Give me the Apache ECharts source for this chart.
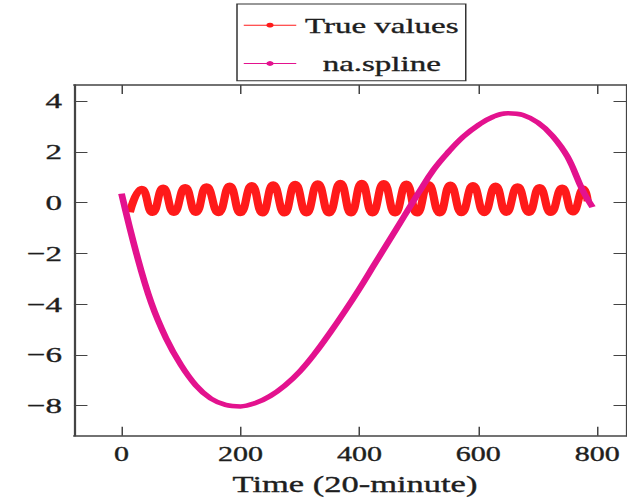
<!DOCTYPE html>
<html>
<head>
<meta charset="utf-8">
<script src="https://cdn.jsdelivr.net/npm/echarts@6/dist/echarts.min.js"></script>
<style>
  html, body { margin: 0; padding: 0; background: #fff; overflow: hidden; }
  #frame { width: 627px; height: 501px; overflow: hidden; }
  /* the figure is laid out narrow and widened 1.5x, like the exported plot */
  #chart { width: 418px; height: 501px; transform: scaleX(1.5); transform-origin: 0 0; }
</style>
</head>
<body>
<div id="frame"><div id="chart"></div></div>
<script>
// Observed series: time index (20-minute steps) of each trough / peak, and its value
const trueTimes = [14, 34, 52, 70, 88, 107, 125, 143, 163, 182, 200, 219, 237, 255, 274, 292,
  311, 330, 349, 368, 386, 404, 422, 441, 460, 479, 497, 516, 535, 553, 572, 591,
  610, 629, 647, 666, 685, 703, 722, 741, 759, 777, 784];
const trueValues = [-0.38, 0.55, -0.42, 0.6, -0.42, 0.62, -0.42, 0.65, -0.43, 0.68, -0.43, 0.7,
  -0.44, 0.73, -0.44, 0.75, -0.44, 0.77, -0.44, 0.79, -0.44, 0.79, -0.44, 0.78, -0.44, 0.76,
  -0.44, 0.74, -0.44, 0.72, -0.43, 0.7, -0.43, 0.68, -0.42, 0.65, -0.42, 0.62, -0.42, 0.6,
  -0.4, 0.56, 0.05];

// na.spline reconstruction
const splineTimes = [0, 25, 50, 75, 100, 125, 150, 175, 200, 225, 250, 275, 300, 325, 350, 375,
  400, 425, 450, 475, 500, 525, 550, 575, 600, 625, 650, 675, 700, 725, 750, 775, 792];
const splineValues = [0.35, -2.0, -3.95, -5.35, -6.4, -7.2, -7.72, -7.97, -8.03, -7.9, -7.62,
  -7.2, -6.65, -5.95, -5.15, -4.3, -3.4, -2.45, -1.5, -0.55, 0.4, 1.3, 2.0, 2.6, 3.05, 3.38,
  3.52, 3.45, 3.15, 2.62, 1.8, 0.5, -0.18];

const xTicks = [0, 200, 400, 600, 800];
const yTicks = [-8, -6, -4, -2, 0, 2, 4];
const seriesNames = ['True values', 'na.spline'];

const pairs = (xs, ys) => xs.map((x, i) => [x, ys[i]]);
const serif = 'Liberation Serif';
const axisColor = '#444';
const textColor = '#1e1e1e';
const minus = v => String(v).replace('-', '\u2212');
const labelFont = size => ({
  fontFamily: serif, fontSize: size, color: textColor,
  textBorderColor: textColor, textBorderWidth: 0.35
});

const chart = echarts.init(document.getElementById('chart'), null, { renderer: 'svg' });

const xBase = {
  type: 'value', min: -80, max: 850,
  splitLine: { show: false },
  axisLine: { show: true, onZero: false, lineStyle: { color: axisColor, width: 1.5 } },
  axisTick: { show: true, inside: true, length: 9, customValues: xTicks, lineStyle: { color: axisColor, width: 1 } }
};
const yBase = {
  type: 'value', min: -9.19, max: 4.63,
  splitLine: { show: false },
  axisLine: { show: true, onZero: false, lineStyle: { color: axisColor, width: 1.5 } },
  axisTick: { show: true, inside: true, length: 9, customValues: yTicks, lineStyle: { color: axisColor, width: 1 } }
};

chart.setOption({
  animation: false,
  backgroundColor: '#fff',
  grid: { left: 49.3, right: 0, top: 85, bottom: 65, containLabel: false },
  legend: {
    orient: 'vertical',
    left: 158, top: 4,
    data: seriesNames,
    padding: [10, 4, 6, 4],
    itemGap: 16,
    itemWidth: 35,
    itemHeight: 6,
    lineStyle: { width: 1 },
    borderColor: '#333', borderWidth: 1, borderRadius: 0,
    backgroundColor: '#fff',
    formatter: '{t|{name}}',
    textStyle: {
      rich: { t: Object.assign({ width: 104, align: 'center', lineHeight: 22 }, labelFont(22)) }
    }
  },
  xAxis: [
    Object.assign({}, xBase, {
      position: 'bottom',
      name: 'Time (20-minute)', nameLocation: 'middle', nameGap: 37,
      nameTextStyle: Object.assign({ padding: [0, 0, 0, 6] }, labelFont(23)),
      axisLabel: Object.assign({ show: true, customValues: xTicks, margin: 9 }, labelFont(20))
    }),
    Object.assign({}, xBase, { position: 'top', axisLabel: { show: false } })
  ],
  yAxis: [
    Object.assign({}, yBase, {
      position: 'left',
      axisLabel: Object.assign({ show: true, customValues: yTicks, margin: 8, formatter: minus }, labelFont(22))
    }),
    Object.assign({}, yBase, { position: 'right', axisLabel: { show: false } })
  ],
  series: [
    {
      name: seriesNames[0], type: 'line', xAxisIndex: 0, yAxisIndex: 0,
      data: pairs(trueTimes, trueValues),
      smooth: 0.5, symbol: 'circle', showSymbol: false,
      itemStyle: { color: '#ff1a1a' },
      lineStyle: { color: '#ff1a1a', width: 5.5 },
      z: 2
    },
    {
      name: seriesNames[1], type: 'line', xAxisIndex: 0, yAxisIndex: 0,
      data: pairs(splineTimes, splineValues),
      smooth: 0.4, symbol: 'circle', showSymbol: false,
      itemStyle: { color: '#e3128e' },
      lineStyle: { color: '#e3128e', width: 4.5 },
      z: 3
    }
  ]
});
</script>
</body>
</html>
